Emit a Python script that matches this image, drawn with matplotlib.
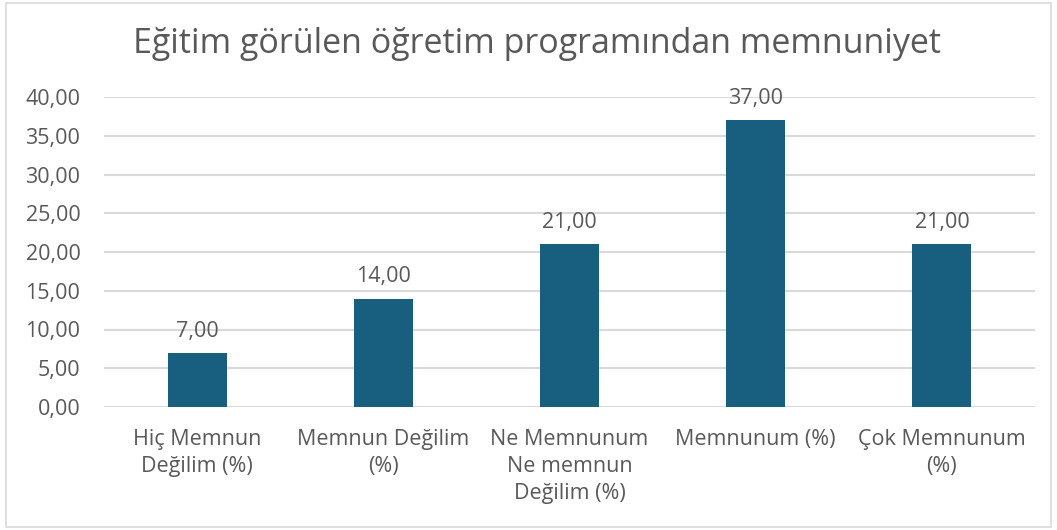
import matplotlib.pyplot as plt
from matplotlib.patches import Rectangle

plt.rcParams['font.family'] = ['Open Sans', 'DejaVu Sans']

# Data
categories = ['Hiç Memnun\nDeğilim (%)', 'Memnun Değilim\n(%)',
              'Ne Memnunum\nNe memnun\nDeğilim (%)', 'Memnunum (%)',
              'Çok Memnunum\n(%)']
values = [7, 14, 21, 37, 21]
yticks = [0, 5, 10, 15, 20, 25, 30, 35, 40]

text_color = '#595959'
bar_color = '#175E7F'
grid_color = '#D9D9D9'

fig = plt.figure(figsize=(10.57, 5.30), dpi=100)
ax = fig.add_axes([104 / 1057, 123 / 530, 931 / 1057, 310 / 530])

x = range(len(values))
bars = ax.bar(x, values, width=0.317, color=bar_color, zorder=3)

ax.set_xlim(-0.5, len(values) - 0.5)
ax.set_ylim(0, 40)
ax.set_yticks(yticks)
ax.set_yticklabels([f'{v:.2f}'.replace('.', ',') for v in yticks],
                   fontsize=15.5, color=text_color)
ax.set_xticks(list(x))
ax.set_xticklabels(categories, fontsize=15.5, color=text_color, linespacing=1.38,
                   va='top')
ax.tick_params(axis='both', length=0)
ax.tick_params(axis='y', pad=17)
ax.tick_params(axis='x', pad=16)

ax.grid(axis='y', color=grid_color, linewidth=1.5, zorder=0)
for s in ax.spines.values():
    s.set_visible(False)

for b, v in zip(bars, values):
    ax.annotate(f'{v:.2f}'.replace('.', ','), (b.get_x() + b.get_width() / 2, v),
                xytext=(0, 8), textcoords='offset points', ha='center',
                va='bottom', fontsize=15.5, color=text_color)

fig.text(537 / 1057, 1 - 44 / 530, 'Eğitim görülen öğretim programından memnuniyet',
         ha='center', va='center', fontsize=24.5, color=text_color)

# outer border
fig.patches.append(Rectangle((6 / 1057, 3 / 530), 1045 / 1057, 524 / 530,
                             transform=fig.transFigure, fill=False,
                             edgecolor='#D9D9D9', linewidth=1.2))

plt.savefig('out.png', dpi=100)
